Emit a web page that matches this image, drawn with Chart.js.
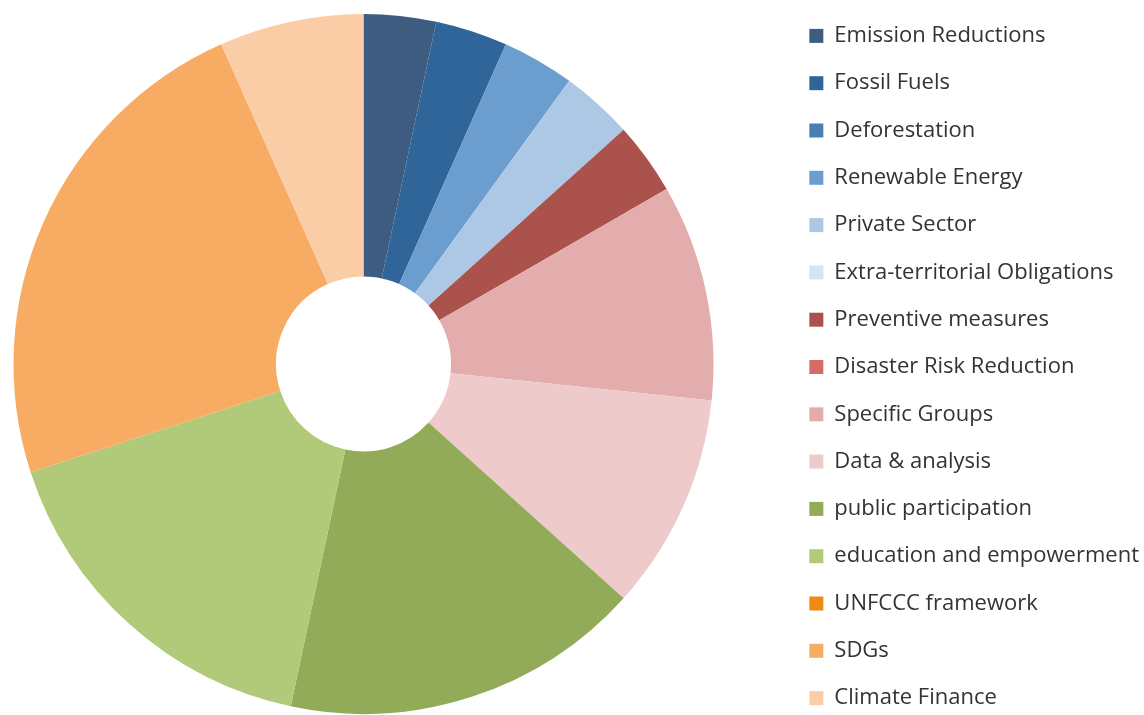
<!DOCTYPE html>
<html>
<head>
<meta charset="utf-8">
<script src="https://cdn.jsdelivr.net/npm/chart.js@4.4.1/dist/chart.umd.min.js"></script>
<style>
  html, body { margin: 0; padding: 0; background: #fff; overflow: hidden; }
  body { width: 1144px; height: 715px; position: relative; }
  /* canvas is shifted so the pie sits at (364, 364) while the legend stays on the right */
  #wrap { position: absolute; left: -57px; top: -22px; height: 760px; }
</style>
</head>
<body>
<div id="wrap"><canvas id="topicChart"></canvas></div>
<script>
// categories, read clockwise from 12 o'clock
const topics = [
  'Emission Reductions', 'Fossil Fuels', 'Deforestation', 'Renewable Energy',
  'Private Sector', 'Extra-territorial Obligations', 'Preventive measures',
  'Disaster Risk Reduction', 'Specific Groups', 'Data & analysis',
  'public participation', 'education and empowerment', 'UNFCCC framework',
  'SDGs', 'Climate Finance'
];
// counts per topic (slices at 0 are only in the legend)
const counts = [1, 1, 0, 1, 1, 0, 1, 0, 3, 3, 5, 5, 0, 7, 2];

const colors = [
  '#3d5c80', '#2f6598', '#4b7fb3', '#6b9ecf', '#adc8e4', '#d3e4f5',
  '#ab524c', '#d66a66', '#e4adad', '#eecbca',
  '#92ab58', '#b1ca7a', '#ef8a16', '#f8ac63', '#facda6'
];

const fontSize = 22;
const fontFamily = '"Open Sans", sans-serif';
const boxSize = 14;
const itemPad = 25.3;

// legend width is sized from the longest label so nothing gets clipped
const mctx = document.createElement('canvas').getContext('2d');
mctx.font = fontSize + 'px ' + fontFamily;
const longest = Math.max(...topics.map(t => mctx.measureText(t).width));
const legendW = itemPad + boxSize + fontSize / 2 + longest + 10;
const areaW = 841;   // chart area width inside the canvas
const rightPad = 20;
document.getElementById('wrap').style.width = Math.ceil(areaW + legendW + rightPad) + 'px';

const ctx = document.getElementById('topicChart');
new Chart(ctx, {
  type: 'doughnut',
  data: {
    labels: topics,
    datasets: [{
      data: counts,
      backgroundColor: colors,
      borderWidth: 0,
      hoverOffset: 0
    }]
  },
  options: {
    responsive: true,
    maintainAspectRatio: false,
    animation: false,
    cutout: '25%',
    radius: 350,
    layout: { padding: { top: 12, bottom: 0, left: 0, right: rightPad } },
    plugins: {
      tooltip: { enabled: false },
      legend: {
        position: 'right',
        // empty title only nudges the items down a few px
        title: { display: true, text: '', padding: 0, font: { size: 5 } },
        labels: {
          boxWidth: boxSize,
          boxHeight: boxSize,
          padding: itemPad,
          color: '#333333',
          font: { family: fontFamily, size: fontSize }
        }
      }
    }
  }
});
</script>
</body>
</html>
